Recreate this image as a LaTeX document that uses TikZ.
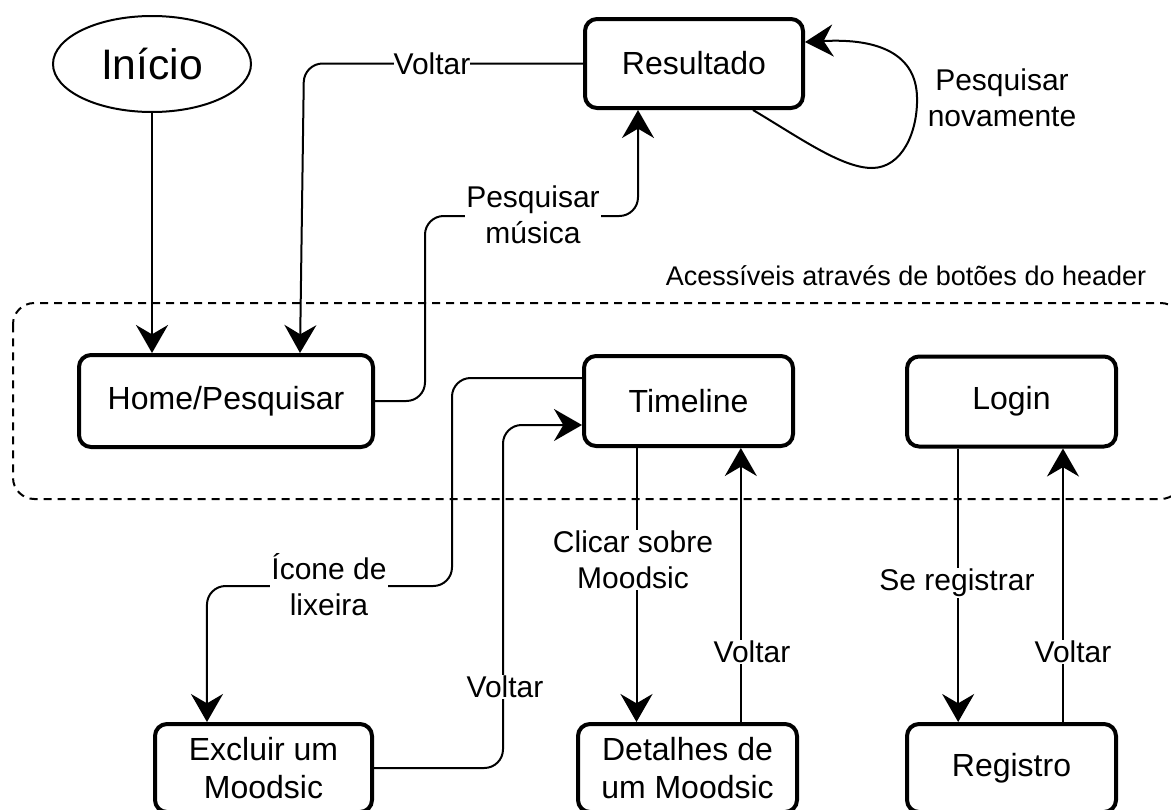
\documentclass[tikz,border=0pt]{standalone}
\usepackage{fontspec}
\setmainfont{Liberation Sans}
\usetikzlibrary{arrows.meta,shapes.geometric}
\newcommand\boxfont{\fontsize{24}{28.5}\selectfont}
\newcommand\lblfont{\fontsize{22.5}{27}\selectfont}
\newcommand\hdrfont{\fontsize{20.25}{24}\selectfont}
\newcommand\startfont{\fontsize{32}{36}\selectfont}
\tikzset{
  box/.style={draw, line width=3pt, rounded corners=9pt, fill=white,
    align=center, font=\boxfont, inner sep=0pt},
  startnode/.style={draw, ellipse, line width=1.5pt, fill=white,
    inner sep=0pt, font=\startfont},
  conn/.style={line width=1.5pt, rounded corners=14pt},
  arr/.style={conn, -{Stealth[length=21pt, width=24pt, inset=7pt]}},
  lbl/.style={fill=white, inner sep=1pt, align=center, font=\lblfont},
  group/.style={line width=1.5pt, dash pattern=on 6pt off 4.5pt, rounded corners=16pt},
}
\begin{document}
\begin{tikzpicture}[x=0.75pt, y=-0.75pt]
\useasboundingbox (0,0) rectangle (1171,810);
\clip (0,0) rectangle (1171,810);

% group of pages reachable from the header
\draw[group] (13,303) rectangle (1182,499);
\node[font=\hdrfont, inner sep=0pt, anchor=base] (hdr) at (906,285)
  {Acessíveis através de botões do header};

% pages
\node[startnode, minimum width=148.5pt, minimum height=72pt] (ini) at (152,64) {Início};
\node[box, minimum width=163.5pt, minimum height=66.75pt] (res) at (694,63.5) {Resultado};
\node[box, minimum width=220.5pt, minimum height=69pt] (home) at (226,401) {Home/Pesquisar};
\node[box, minimum width=156.75pt, minimum height=67.5pt] (tl) at (688.5,401) {Timeline};
\node[box, minimum width=156.75pt, minimum height=67.5pt] (login) at (1011.5,401.5) {Login};
\node[box, minimum width=162.75pt, minimum height=66pt] (exc) at (263.5,768) {Excluir um\\Moodsic};
\node[box, minimum width=164.25pt, minimum height=66pt] (det) at (687.5,768) {Detalhes de\\um Moodsic};
\node[box, minimum width=156.75pt, minimum height=66pt] (reg) at (1011.5,768) {Registro};

% transitions
\draw[arr] (ini.south) -- (ini.south |- home.north);
\draw[arr] (res.west) -- (304,63.5) -- ([xshift=55.5pt]home.north);
\draw[arr] (home.east) -| (425,216) -| ([xshift=-42pt]res.south);
\draw[arr, sharp corners] ([xshift=44.25pt]res.south)
  .. controls (800,138) and (842,168) .. (872,168)
  .. controls (902,168) and (918,132) .. (917,97)
  .. controls (916,55) and (880,38) .. ([yshift=16.1pt]res.east);
\draw[arr] ([yshift=17.25pt]tl.west) -| (452,586) -| ([xshift=-42.4pt]exc.north);
\draw[arr] (exc.east) -| (503,425) -- ([yshift=-18pt]tl.west);
\draw[arr] ([xshift=-39pt]tl.south) -- ([xshift=-39pt]tl.south |- det.north);
\draw[arr] ([xshift=40pt]det.north) -- ([xshift=40pt]det.north |- tl.south);
\draw[arr] ([xshift=-40pt]login.south) -- ([xshift=-40pt]login.south |- reg.north);
\draw[arr] ([xshift=38.6pt]reg.north) -- ([xshift=38.6pt]reg.north |- login.south);

% transition labels
\node[lbl, inner sep=0pt] (l1) at (432,64) {Voltar};
\node[lbl] (l2) at (533,215) {Pesquisar\\música};
\node[lbl, fill=none] (l3) at (1002,98) {Pesquisar\\novamente};
\node[lbl] (l4) at (329,585) {Ícone de\\lixeira};
\node[lbl] (l5) at (505,687) {Voltar};
\node[lbl] (l6) at (633,560) {Clicar sobre\\Moodsic};
\node[lbl] (l7) at (752,652) {Voltar};
\node[lbl] (l8) at (957,583) {Se registrar};
\node[lbl] (l9) at (1073,652) {Voltar};
\end{tikzpicture}
\end{document}
